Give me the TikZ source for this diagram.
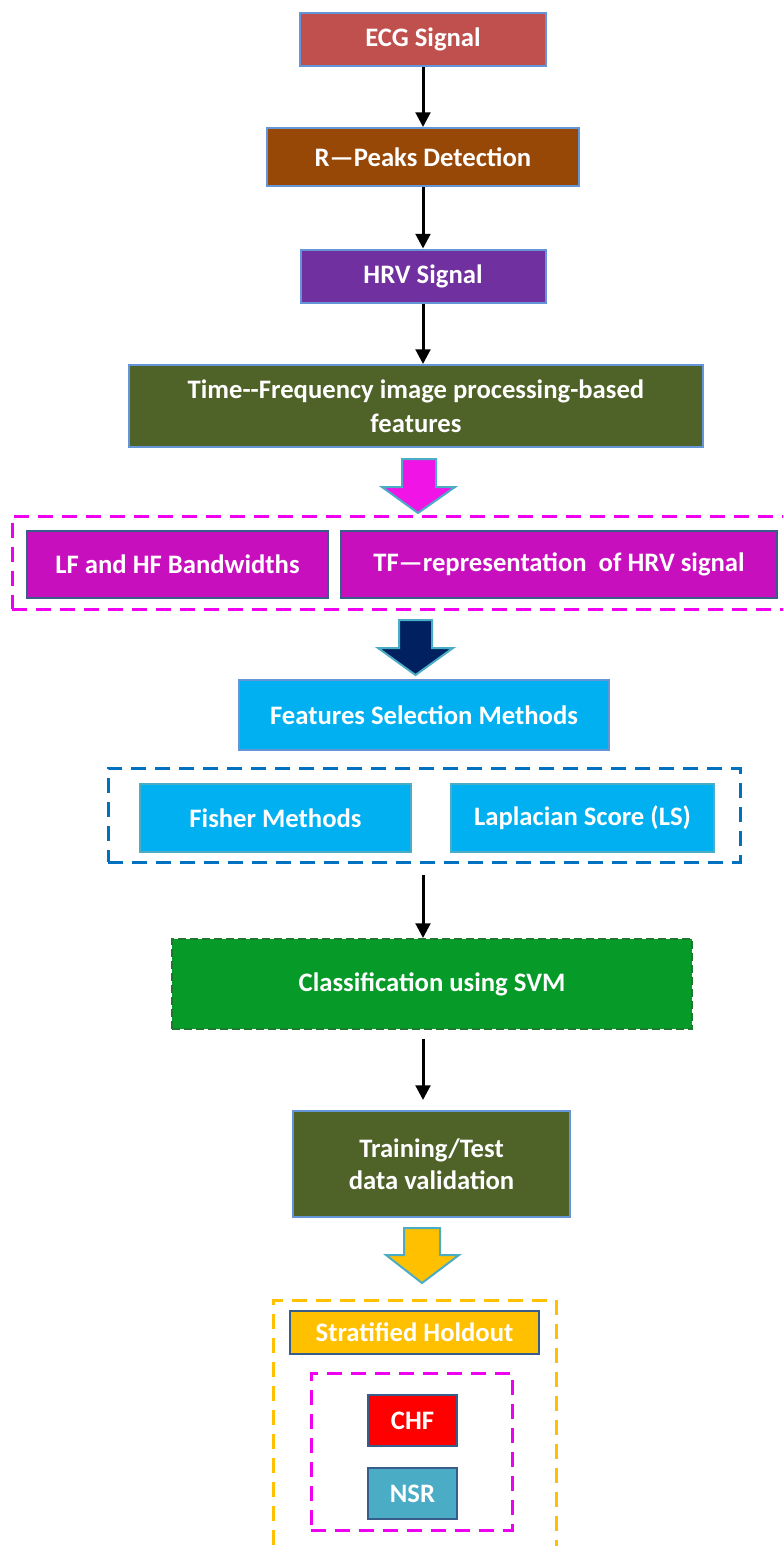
\documentclass[tikz,border=0pt]{standalone}
\usepackage{fontspec}
\setmainfont{Carlito}
\usetikzlibrary{arrows.meta}

\definecolor{ecgred}{RGB}{192,80,77}
\definecolor{peakbrown}{RGB}{151,72,6}
\definecolor{hrvpurple}{RGB}{112,48,160}
\definecolor{olivebox}{RGB}{79,98,40}
\definecolor{edgeblue}{RGB}{100,150,215}
\definecolor{edgedark}{RGB}{56,93,138}
\definecolor{tfmagenta}{RGB}{200,15,190}
\definecolor{pinkarrow}{RGB}{240,20,230}
\definecolor{arrowedge}{RGB}{75,172,198}
\definecolor{navyarrow}{RGB}{0,32,96}
\definecolor{selcyan}{RGB}{0,176,240}
\definecolor{groupblue}{RGB}{0,112,192}
\definecolor{groupmagenta}{RGB}{240,0,240}
\definecolor{svmgreen}{RGB}{6,155,40}
\definecolor{svmedge}{RGB}{30,120,45}
\definecolor{holdyellow}{RGB}{255,192,0}
\definecolor{chfred}{RGB}{255,0,0}
\definecolor{nsrteal}{RGB}{75,172,198}

\tikzset{every picture/.style={line width=0.75pt}}
\tikzset{
  stagebox/.style={draw=edgeblue, line width=1.5pt, text=white, align=center, inner sep=0pt,
    font=\bfseries\fontsize{20}{24}\selectfont},
  groupline/.style={line width=2.25pt, dash pattern=on 11pt off 7pt, inner sep=0pt},
  flowarrow/.style={line width=2.25pt, -{Triangle[width=11pt,length=11pt]}},
  blockarrow/.style={draw=arrowedge, line width=1.5pt, line join=miter}
}

\begin{document}
\begin{tikzpicture}[x=0.75pt,y=0.75pt,yscale=-1,xscale=1]
\useasboundingbox (0,0) rectangle (783,1546);
\clip (0,0) rectangle (783,1546);
\coordinate (spine) at (423,0);

% Text Node
\draw (423,39.5) node (ecg) [stagebox, fill=ecgred, minimum width=184.5pt, minimum height=39.75pt] {ECG Signal};
% Text Node
\draw (423,157) node (rpeak) [stagebox, fill=peakbrown, minimum width=234pt, minimum height=43.5pt] {R—Peaks Detection};
% Text Node
\draw (423,276) node (hrv) [stagebox, fill=hrvpurple, minimum width=183.75pt, minimum height=39.75pt] {HRV Signal};
% Text Node
\draw (416,406) node (tffeat) [stagebox, fill=olivebox, minimum width=430.5pt, minimum height=61.5pt, font=\bfseries\fontsize{20}{25.5}\selectfont] {Time-{}-Frequency image processing-based\\features};

%Straight Lines
\draw [flowarrow] (ecg) -- (rpeak);
%Straight Lines
\draw [flowarrow] (rpeak) -- (hrv);
%Straight Lines
\draw [flowarrow] (hrv.south) -- (hrv.south |- tffeat.north);

%Shape: Down Arrow
\draw [blockarrow, fill=pinkarrow] (402,459) -- (436,459) -- (436,487) -- (455,487) -- (418,513) -- (382,487) -- (402,487) -- cycle;

% Group
\draw (401,562.5) node (bandgroup) [groupline, draw=groupmagenta, minimum width=583.5pt, minimum height=69.75pt] {};
% Text Node
\draw (177.5,564.5) node (lfhf) [stagebox, draw=edgedark, fill=tfmagenta, minimum width=225.75pt, minimum height=50.25pt] {LF and HF Bandwidths};
% Text Node
\draw (559,564.5) node (tfrep) [stagebox, draw=edgedark, fill=tfmagenta, minimum width=327pt, minimum height=50.25pt] {TF—representation~ of HRV signal};

%Shape: Down Arrow
\draw [blockarrow, fill=navyarrow] (399,620) -- (432,620) -- (432,648) -- (453,648) -- (415.5,675) -- (378,648) -- (399,648) -- cycle;

% Text Node
\draw (424,715) node (fsm) [stagebox, draw=edgeblue, fill=selcyan, minimum width=277.5pt, minimum height=52.5pt] {Features Selection Methods};
% Group
\draw (424,815) node (selgroup) [groupline, draw=groupblue, minimum width=474pt, minimum height=70.5pt] {};
% Text Node
\draw (275.5,818) node (fisher) [stagebox, draw=arrowedge, fill=selcyan, minimum width=203.25pt, minimum height=51pt] {Fisher Methods};
% Text Node
\draw (582.5,818) node (laplace) [stagebox, draw=arrowedge, fill=selcyan, minimum width=197.25pt, minimum height=51pt] {Laplacian Score (LS)};

% Text Node
\draw (432,984) node (svm) [stagebox, draw=svmedge, dash pattern=on 6pt off 3pt, fill=svmgreen, minimum width=390pt, minimum height=67.5pt] {Classification using SVM};
%Straight Lines
\draw [flowarrow, shorten <=8.25pt] (selgroup.south -| spine) -- (svm.north -| spine);

% Text Node
\draw (431.5,1164) node (train) [stagebox, fill=olivebox, minimum width=207.75pt, minimum height=79.5pt] {Training/Test\\data validation};
%Straight Lines
\draw [flowarrow, shorten <=6.75pt, shorten >=7.5pt] (svm.south -| spine) -- (train.north -| spine);

%Shape: Down Arrow
\draw [blockarrow, fill=holdyellow] (404,1228) -- (440,1228) -- (440,1255) -- (459,1255) -- (422,1283) -- (386,1255) -- (404,1255) -- cycle;

% Group
\draw (414.5,1430) node (holdgroup) [groupline, draw=holdyellow, minimum width=212.25pt, minimum height=195pt] {};
% Text Node
\draw (414.5,1332.5) node (strat) [stagebox, draw=edgedark, fill=holdyellow, minimum width=186.75pt, minimum height=32.25pt] {Stratified Holdout};
% Group
\draw (411.5,1451.5) node (classgroup) [groupline, draw=groupmagenta, minimum width=150.75pt, minimum height=117.75pt] {};
% Text Node
\draw (412.5,1420.5) node (chf) [stagebox, draw=edgedark, fill=chfred, minimum width=66.75pt, minimum height=38.25pt] {CHF};
% Text Node
\draw (412.5,1493.5) node (nsr) [stagebox, draw=edgedark, fill=nsrteal, minimum width=66.75pt, minimum height=38.25pt] {NSR};

\end{tikzpicture}
\end{document}
